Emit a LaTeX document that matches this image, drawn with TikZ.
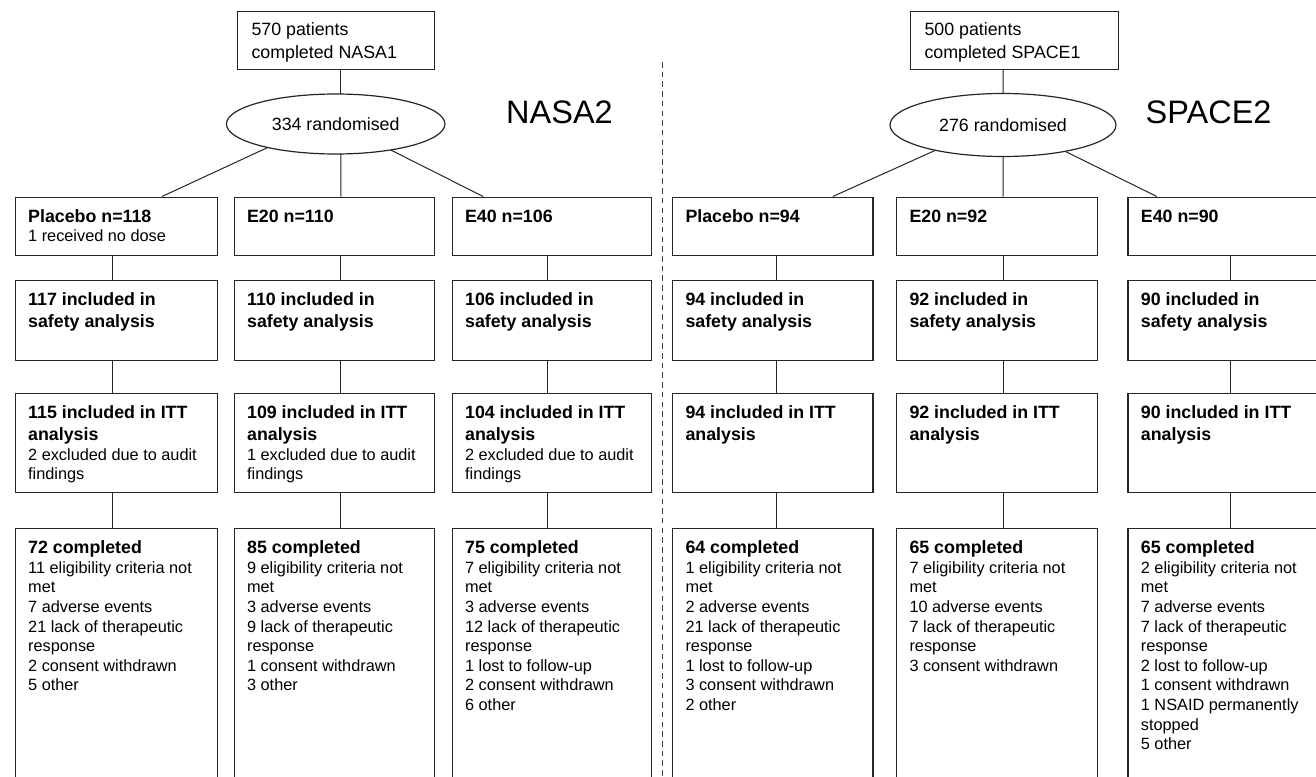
\documentclass[tikz,border=0pt]{standalone}
\usepackage{fontspec}
\setmainfont{Liberation Sans}
\usetikzlibrary{calc,shapes.geometric}
\newcommand{\hdtext}[1]{{\fontsize{17.8}{21.7}\selectfont\bfseries #1\par}}
\newcommand{\bdtext}[1]{{\fontsize{16.3}{19.6}\selectfont #1\par}}
\newcommand{\tbtext}[1]{\parbox[t]{186pt}{\raggedright #1}}
\tikzset{
  box/.style={draw=black!85, line width=1.2pt, rectangle, inner sep=0pt, anchor=north west},
  conn/.style={draw=black!85, line width=1pt},
  ell/.style={draw=black!85, line width=1.2pt, ellipse, inner sep=0pt, font=\fontsize{17.8}{22}\selectfont},
  txt/.style={inner sep=0pt, anchor=base west, text=black},
  biglabel/.style={inner sep=0pt, anchor=base west, font=\fontsize{32.5}{36}\selectfont},
  divider/.style={draw=black!75, line width=1pt, dash pattern=on 5.5pt off 4.2pt}
}
\begin{document}
\begin{tikzpicture}[x=1pt, y=-1pt]
\useasboundingbox (0,0) rectangle (1316,776);
\fill[white] (0,0) rectangle (1316,776);
\clip (0,0) rectangle (1316,776);

% ---------- top boxes and ellipses ----------
\node[box, minimum width=196.5pt, minimum height=58pt] (N0) at (237,11) {};
\node[txt] (tN0) at ($(N0.north west)+(14.3,25)$) {\parbox[t]{180pt}{\fontsize{17.8}{22.5}\selectfont 570 patients\\completed NASA1}};
\node[ell, minimum width=218.5pt, minimum height=60pt] (E1) at (335.7,124) {334 randomised};
\node[biglabel] (L1) at (506,123.3) {NASA2};

\node[box, minimum width=207.5pt, minimum height=58pt] (S0) at (910,11) {};
\node[txt] (tS0) at ($(S0.north west)+(14.3,25)$) {\parbox[t]{190pt}{\fontsize{17.8}{22.5}\selectfont 500 patients\\completed SPACE1}};
\node[ell, minimum width=226pt, minimum height=63pt] (E2) at (1003,125) {276 randomised};
\node[biglabel] (L2) at (1145.5,123.3) {SPACE2};

% divider
\coordinate (dtop) at (662,62);
\coordinate (dbot) at (662,780);
\draw[divider] (dtop) -- (dbot);

% ---------- column boxes ----------
\foreach \c/\xl/\w in {NP/14.7/201.8, NE/233.6/199.9, NF/451.6/198.9, SP/672/200.3, SE/896/200.5, SF/1127.4/200.6} {
  \node[box, minimum width=\w pt, minimum height=58pt] (\c1) at (\xl,196.5) {};
  \node[box, minimum width=\w pt, minimum height=80pt] (\c2) at (\xl,280) {};
  \node[box, minimum width=\w pt, minimum height=99pt] (\c3) at (\xl,393) {};
  \node[box, minimum width=\w pt, minimum height=280pt] (\c4) at (\xl,528) {};
}

% vertical connectors between rows
\foreach \c/\off in {NP/98.1, NE/107.3, NF/95.7, SP/104, SE/107.2, SF/103.2} {
  \draw[conn] ([xshift=\off pt]\c1.south west) -- ([xshift=\off pt]\c2.north west);
  \draw[conn] ([xshift=\off pt]\c2.south west) -- ([xshift=\off pt]\c3.north west);
  \draw[conn] ([xshift=\off pt]\c3.south west) -- ([xshift=\off pt]\c4.north west);
}

% top connectors
\draw[conn] ([xshift=103.9pt]N0.south west) -- ($(E1.center)+(5.2,-30)$);
\draw[conn] ([xshift=93.2pt]S0.south west) -- (E2.north);
\draw[conn] ($(E1.center)+(-68,23.5)$) -- ([xshift=147.3pt]NP1.north west);
\draw[conn] ($(E1.center)+(5.2,30)$) -- ([xshift=107.3pt]NE1.north west);
\draw[conn] ($(E1.center)+(55,26)$) -- ([xshift=31.6pt]NF1.north west);
\draw[conn] ($(E2.center)+(-67.6,25.3)$) -- ([xshift=160.8pt]SP1.north west);
\draw[conn] (E2.south) -- ([xshift=107.2pt]SE1.north west);
\draw[conn] ($(E2.center)+(62,26.3)$) -- ([xshift=29.4pt]SF1.north west);

% ---------- texts ----------
\node[txt] (tNP1) at ($(NP1.north west)+(13.3,25.7)$) {\tbtext{\hdtext{Placebo n=118}\bdtext{1 received no dose}}};
\node[txt] (tNP2) at ($(NP2.north west)+(13.3,25.7)$) {\tbtext{\hdtext{117 included in\\safety analysis}}};
\node[txt] (tNP3) at ($(NP3.north west)+(13.3,25.7)$) {\tbtext{\hdtext{115 included in ITT\\analysis}\bdtext{2 excluded due to audit\\findings}}};
\node[txt] (tNP4) at ($(NP4.north west)+(13.3,25.7)$) {\tbtext{\hdtext{72 completed}\bdtext{11 eligibility criteria not\\met\\7 adverse events\\21 lack of therapeutic\\response\\2 consent withdrawn\\5 other}}};

\node[txt] (tNE1) at ($(NE1.north west)+(13.3,25.7)$) {\tbtext{\hdtext{E20 n=110}}};
\node[txt] (tNE2) at ($(NE2.north west)+(13.3,25.7)$) {\tbtext{\hdtext{110 included in\\safety analysis}}};
\node[txt] (tNE3) at ($(NE3.north west)+(13.3,25.7)$) {\tbtext{\hdtext{109 included in ITT\\analysis}\bdtext{1 excluded due to audit\\findings}}};
\node[txt] (tNE4) at ($(NE4.north west)+(13.3,25.7)$) {\tbtext{\hdtext{85 completed}\bdtext{9 eligibility criteria not\\met\\3 adverse events\\9 lack of therapeutic\\response\\1 consent withdrawn\\3 other}}};

\node[txt] (tNF1) at ($(NF1.north west)+(13.3,25.7)$) {\tbtext{\hdtext{E40 n=106}}};
\node[txt] (tNF2) at ($(NF2.north west)+(13.3,25.7)$) {\tbtext{\hdtext{106 included in\\safety analysis}}};
\node[txt] (tNF3) at ($(NF3.north west)+(13.3,25.7)$) {\tbtext{\hdtext{104 included in ITT\\analysis}\bdtext{2 excluded due to audit\\findings}}};
\node[txt] (tNF4) at ($(NF4.north west)+(13.3,25.7)$) {\tbtext{\hdtext{75 completed}\bdtext{7 eligibility criteria not\\met\\3 adverse events\\12 lack of therapeutic\\response\\1 lost to follow-up\\2 consent withdrawn\\6 other}}};

\node[txt] (tSP1) at ($(SP1.north west)+(13.3,25.7)$) {\tbtext{\hdtext{Placebo n=94}}};
\node[txt] (tSP2) at ($(SP2.north west)+(13.3,25.7)$) {\tbtext{\hdtext{94 included in\\safety analysis}}};
\node[txt] (tSP3) at ($(SP3.north west)+(13.3,25.7)$) {\tbtext{\hdtext{94 included in ITT\\analysis}}};
\node[txt] (tSP4) at ($(SP4.north west)+(13.3,25.7)$) {\tbtext{\hdtext{64 completed}\bdtext{1 eligibility criteria not\\met\\2 adverse events\\21 lack of therapeutic\\response\\1 lost to follow-up\\3 consent withdrawn\\2 other}}};

\node[txt] (tSE1) at ($(SE1.north west)+(13.3,25.7)$) {\tbtext{\hdtext{E20 n=92}}};
\node[txt] (tSE2) at ($(SE2.north west)+(13.3,25.7)$) {\tbtext{\hdtext{92 included in\\safety analysis}}};
\node[txt] (tSE3) at ($(SE3.north west)+(13.3,25.7)$) {\tbtext{\hdtext{92 included in ITT\\analysis}}};
\node[txt] (tSE4) at ($(SE4.north west)+(13.3,25.7)$) {\tbtext{\hdtext{65 completed}\bdtext{7 eligibility criteria not\\met\\10 adverse events\\7 lack of therapeutic\\response\\3 consent withdrawn}}};

\node[txt] (tSF1) at ($(SF1.north west)+(13.3,25.7)$) {\tbtext{\hdtext{E40 n=90}}};
\node[txt] (tSF2) at ($(SF2.north west)+(13.3,25.7)$) {\tbtext{\hdtext{90 included in\\safety analysis}}};
\node[txt] (tSF3) at ($(SF3.north west)+(13.3,25.7)$) {\tbtext{\hdtext{90 included in ITT\\analysis}}};
\node[txt] (tSF4) at ($(SF4.north west)+(13.3,25.7)$) {\tbtext{\hdtext{65 completed}\bdtext{2 eligibility criteria not\\met\\7 adverse events\\7 lack of therapeutic\\response\\2 lost to follow-up\\1 consent withdrawn\\1 NSAID permanently\\stopped\\5 other}}};
\end{tikzpicture}
\end{document}
